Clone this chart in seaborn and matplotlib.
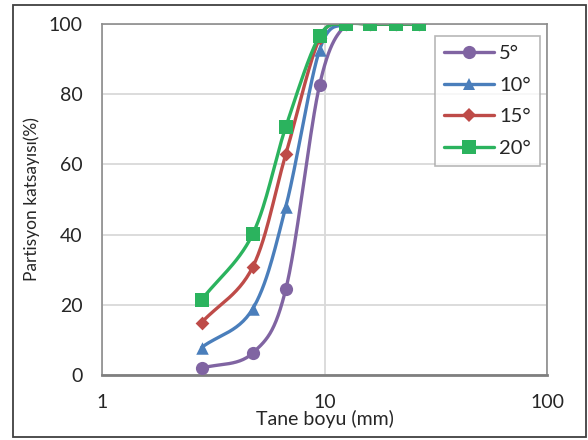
import numpy as np
import pandas as pd
import matplotlib
matplotlib.use("Agg")
import matplotlib.pyplot as plt
from matplotlib.lines import Line2D
from matplotlib.patches import Rectangle
import seaborn as sns

# grain sizes (mm) and partition coefficients (%)
sizes = [2.8, 4.75, 6.7, 9.5, 12.5, 16, 21, 26.5]
labels = ["5°", "10°", "15°", "20°"]
vals_5 = [1.9, 6.2, 24.5, 82.7, 100, 100, 100, 100]
vals_10 = [7.8, 18.8, 48.0, 92.7, 100, 100, 100, 100]
vals_15 = [14.9, 30.7, 63.0, 96.0, 100, 100, 100, 100]
vals_20 = [21.4, 40.1, 70.8, 96.7, 100, 100, 100, 100]

colors = ["#8064A2", "#4A7EBB", "#BE4B48", "#2BB35E"]
markers = ["o", "^", "D", "s"]
msizes = [9.5, 9, 7, 10.5]


def smooth(xs, ys, n=30):
    # Catmull-Rom curve through points in (log x, y), like Excel's smoothed line
    px = np.log10(np.asarray(xs, float))
    py = np.asarray(ys, float)
    px = np.concatenate([[2 * px[0] - px[1]], px, [2 * px[-1] - px[-2]]])
    py = np.concatenate([[2 * py[0] - py[1]], py, [2 * py[-1] - py[-2]]])
    out_x, out_y = [], []
    t = np.linspace(0, 1, n)
    for i in range(1, len(px) - 2):
        for arr, out in ((px, out_x), (py, out_y)):
            p0, p1, p2, p3 = arr[i - 1], arr[i], arr[i + 1], arr[i + 2]
            out.extend(0.5 * ((2 * p1) + (-p0 + p2) * t
                              + (2 * p0 - 5 * p1 + 4 * p2 - p3) * t ** 2
                              + (-p0 + 3 * p1 - 3 * p2 + p3) * t ** 3))
    return 10 ** np.array(out_x), np.array(out_y)


sns.set_style("white")
plt.rcParams["font.family"] = ["Lato", "DejaVu Sans"]

fig = plt.figure(figsize=(5.88, 4.4), dpi=100)
ax = fig.add_axes([0.1735, 0.148, 0.757, 0.797])

series = [vals_5, vals_10, vals_15, vals_20]
handles = []
for vals, lab, c, m, ms in zip(series, labels, colors, markers, msizes):
    sx, sy = smooth(sizes, vals)
    curve = pd.DataFrame({"x": sx, "y": np.clip(sy, None, 100.3)})
    sns.lineplot(data=curve, x="x", y="y", ax=ax, color=c, lw=2.4, sort=False,
                 estimator=None)
    pts = pd.DataFrame({"x": sizes, "y": vals})
    sns.scatterplot(data=pts, x="x", y="y", ax=ax, color=c, marker=m, s=ms ** 2,
                    edgecolor=c, linewidth=0, zorder=3)
    handles.append(Line2D([], [], color=c, lw=2.4, marker=m, markersize=ms,
                          markeredgewidth=0, label=lab))

ax.set_xscale("log")
ax.set_xlim(1, 100)
ax.set_ylim(0, 100)
ax.set_yticks([0, 20, 40, 60, 80, 100])
ax.set_xticks([1, 10, 100])
ax.set_xticklabels(["1", "10", "100"])
ax.minorticks_off()
ax.tick_params(axis="y", labelsize=14, length=0, pad=14)
ax.tick_params(axis="x", labelsize=14, length=0, pad=14)
ax.grid(True, color="#D9D9D9", lw=1.3)
for s in ax.spines.values():
    s.set_color("#8C8C8C")
    s.set_linewidth(1.2)
ax.spines["bottom"].set_color("#7F7F7F")
ax.spines["bottom"].set_linewidth(2)

ax.set_xlabel("Tane boyu (mm)", fontsize=14, labelpad=-1)
ax.set_ylabel("Partisyon katsayısı(%)", fontsize=12.5, labelpad=6)

leg = ax.legend(handles=handles, loc="upper right", bbox_to_anchor=(0.984, 0.966),
                fontsize=14.5, handlelength=2.5, handletextpad=0.25,
                labelspacing=0.72, frameon=True, fancybox=False, borderpad=0.45,
                borderaxespad=0)
leg.get_frame().set_edgecolor("#A6A6A6")
leg.get_frame().set_linewidth(1.2)

fig.patches.append(Rectangle((13 / 588, 3 / 440), 573 / 588, 432 / 440,
                             transform=fig.transFigure, fill=False,
                             edgecolor="#404040", lw=1.3))

fig.savefig("out.png", dpi=100)
